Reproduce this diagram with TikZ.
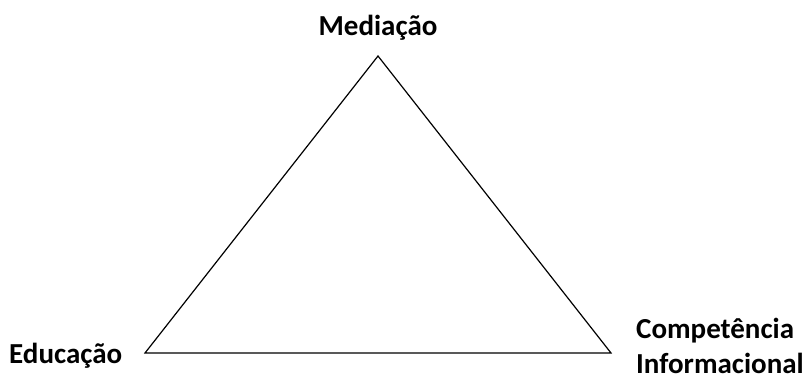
\documentclass[tikz,border=0pt]{standalone}
\usepackage{fontspec}
\setmainfont{Carlito}
\usepackage{tikz}

\tikzset{label/.style={font=\fontsize{29}{33}\selectfont\bfseries, inner sep=0pt}}

\begin{document}
\begin{tikzpicture}[x=1pt, y=-1pt]
    \useasboundingbox (0,0) rectangle (806,380);
    % Draw the triangle
    \coordinate (A) at (378,56);
    \coordinate (B) at (145,353);
    \coordinate (C) at (611,353);

    \draw[line width=1.2pt] (A) -- (B) -- (C) -- cycle;

    % Draw the labels
    \node[label, anchor=base] (med) at (378,35) {Mediação};
    \node[label, anchor=base west] (edu) at (9,363) {Educação};
    \node[label, anchor=base west, align=left] (comp) at (636,373) {Competência\\[2pt]Informacional};
\end{tikzpicture}
\end{document}
